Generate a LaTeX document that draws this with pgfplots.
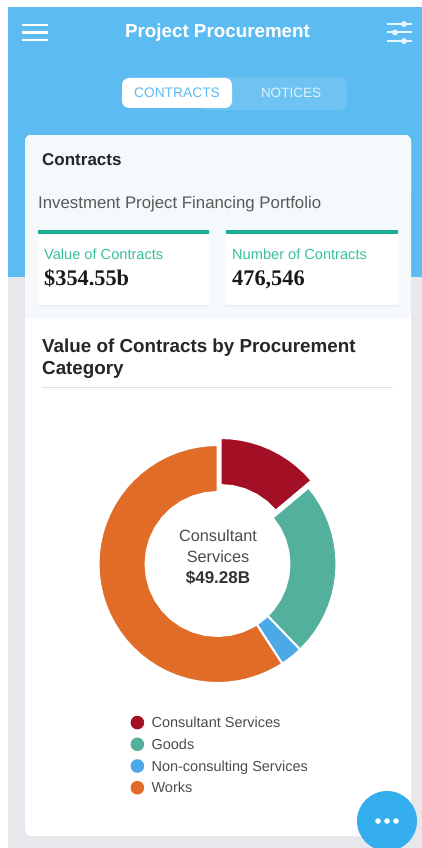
\documentclass[border=0pt]{standalone}
\usepackage{fontspec}
\usepackage{pgfplots}
\pgfplotsset{compat=1.18}
\usepgfplotslibrary{polar}
\usetikzlibrary{shadows}
\setmainfont{Liberation Sans}
\newfontfamily\serifb{Liberation Serif}
\definecolor{header}{HTML}{5CBBF1}
\definecolor{tabback}{HTML}{6EC3F3}
\definecolor{pagegray}{HTML}{E7E7EC}
\definecolor{cardtint}{HTML}{F5F9FC}
\definecolor{greenline}{HTML}{1CAE94}
\definecolor{greentext}{HTML}{3ABF9F}
\definecolor{cons}{HTML}{A30F24}
\definecolor{goods}{HTML}{52B09C}
\definecolor{noncons}{HTML}{4BA9E8}
\definecolor{works}{HTML}{E06C28}
\definecolor{fab}{HTML}{35AEEE}
\newcommand{\fs}[1]{\fontsize{#1}{#1}\selectfont}
\begin{document}
\begin{tikzpicture}
\path[use as bounding box] (0pt,0pt) rectangle (422pt,-848pt);
\clip (0pt,0pt) rectangle (422pt,-848pt);
% app screen, in pixels of the screenshot
\begin{scope}[x=1pt,y=-1pt]
\fill[white] (0,0) rectangle (422,848);
\fill[pagegray] (8,277) rectangle (422,848);
\fill[header] (8,7) rectangle (422,277);
% top bar
\foreach \y in {25,32.5,40} \fill[white] (22,\y-1.2) rectangle (48,\y+1.2);
\foreach \y/\k in {24/404,32.5/395,41/404} {
  \fill[white!85!header] (387,\y-1) rectangle (412,\y+1);
  \fill[white!85!header] (\k,\y) circle (3);
}
\node[white,font=\fs{18.8}\bfseries] at (217.5,32.5) {Project Procurement};
% tabs
\fill[tabback,rounded corners=7] (200,77) rectangle (347,110);
\fill[white,rounded corners=7] (122,78) rectangle (232,108);
\node[header,font=\fs{13.8}] at (177,92.5) {CONTRACTS};
\node[white!80!header,font=\fs{13.5}] at (291,92.5) {NOTICES};
% card
\fill[white,rounded corners=6] (25,135) rectangle (411,836);
\fill[cardtint,rounded corners=6] (25,135) rectangle (411,200);
\fill[cardtint] (25,160) rectangle (411,318);
\node[anchor=base west,black!85,font=\fs{17}\bfseries,inner sep=0] at (42,165.5) {Contracts};
\node[anchor=base west,black!65,font=\fs{16.8},inner sep=0] at (38,208.5) {Investment Project Financing Portfolio};
% small cards
\foreach \xa/\xb in {38/209,226/398} {
  \fill[white,drop shadow={opacity=0.08,shadow xshift=0pt,shadow yshift=-1.5pt}] (\xa,231) rectangle (\xb,305);
  \fill[greenline] (\xa,230) rectangle (\xb,233.5);
}
\node[anchor=base west,greentext,font=\fs{14.6},inner sep=0] at (44,259) {Value of Contracts};
\node[anchor=base west,greentext,font=\fs{14.6},inner sep=0] at (232,259) {Number of Contracts};
\node[anchor=base west,black!90,font=\fs{22.3}\serifb\bfseries,inner sep=0] at (44,285) {\$354.55b};
\node[anchor=base west,black!90,font=\fs{22.3}\serifb\bfseries,inner sep=0] at (232,285) {476,546};
% chart heading
\node[anchor=base west,black!85,font=\fs{18.8}\bfseries,inner sep=0] at (42,352.5) {Value of Contracts by Procurement};
\node[anchor=base west,black!85,font=\fs{18.8}\bfseries,inner sep=0] at (42,374.5) {Category};
\fill[black!12] (42,387) rectangle (393,388);
\end{scope}

\begin{polaraxis}[
    at={(217.5pt,-564pt)}, anchor=center,
    width=238pt, height=238pt, scale only axis,
    hide axis, clip=false, enlargelimits=false,
    xmin=0, xmax=360, ymin=0, ymax=119,
    no markers,
    legend image code/.code={\fill[#1,draw=none] (0.1cm,1pt) circle (6.8pt); \path (16.8pt,0pt);},
    legend cell align=left,
    legend style={
      at={(axis description cs:0.134,-0.137)}, anchor=north west,
      draw=none, fill=none, inner sep=0pt, row sep=6.9pt,
      font=\fs{14.5}\color{black!70},
      nodes={inner sep=0pt, text height=11pt, text depth=3pt},
    },
    slice/.style={draw=white, line width=2pt, line join=round, forget plot},
  ]
  \addlegendimage{fill=cons}
  \addlegendimage{fill=goods}
  \addlegendimage{fill=noncons}
  \addlegendimage{fill=works}
  % Consultant Services, pulled out of the ring
  \addplot[slice, fill=cons, xshift=3pt, yshift=7pt] coordinates {
    (90,119)(85,119)(80,119)(75,119)(70,119)(65,119)(60,119)(55,119)(50,119)(45,119)(40,119)
    (40,72)(50,72)(60,72)(70,72)(80,72)(90,72)} -- cycle;
  % Goods
  \addplot[slice, fill=goods] coordinates {
    (40,119)(35,119)(30,119)(25,119)(20,119)(15,119)(10,119)(5,119)(0,119)
    (-5,119)(-10,119)(-15,119)(-20,119)(-25,119)(-30,119)(-35,119)(-40,119)(-46,119)
    (-46,72)(-40,72)(-30,72)(-20,72)(-10,72)(0,72)(10,72)(20,72)(30,72)(40,72)} -- cycle;
  % Non-consulting Services
  \addplot[slice, fill=noncons] coordinates {
    (-46,119)(-50,119)(-54,119)(-57,119)
    (-57,72)(-54,72)(-50,72)(-46,72)} -- cycle;
  % Works
  \addplot[slice, fill=works] coordinates {
    (-57,119)(-60,119)(-65,119)(-70,119)(-75,119)(-80,119)(-85,119)(-90,119)(-95,119)(-100,119)
    (-105,119)(-110,119)(-115,119)(-120,119)(-125,119)(-130,119)(-135,119)(-140,119)(-145,119)(-150,119)
    (-155,119)(-160,119)(-165,119)(-170,119)(-175,119)(-180,119)(-185,119)(-190,119)(-195,119)(-200,119)
    (-205,119)(-210,119)(-215,119)(-220,119)(-225,119)(-230,119)(-235,119)(-240,119)(-245,119)(-250,119)
    (-255,119)(-260,119)(-265,119)(-270,119)
    (-270,72)(-260,72)(-250,72)(-240,72)(-230,72)(-220,72)(-210,72)(-200,72)(-190,72)(-180,72)
    (-170,72)(-160,72)(-150,72)(-140,72)(-130,72)(-120,72)(-110,72)(-100,72)(-90,72)(-80,72)
    (-70,72)(-60,72)(-57,72)} -- cycle;
  \legend{Consultant Services,Goods,Non-consulting Services,Works}
\end{polaraxis}

\begin{scope}[x=1pt,y=-1pt]
\node[black!70,font=\fs{16.3}] at (218,536) {Consultant};
\node[black!70,font=\fs{16.3}] at (218,556.5) {Services};
\node[black!80,font=\fs{17}\bfseries] at (218,577.5) {\$49.28B};
% action button
\fill[fab] (387,821) circle (30);
\foreach \x in {378,387,396} \fill[white] (\x,821) circle (2.8);
\end{scope}
\end{tikzpicture}
\end{document}
